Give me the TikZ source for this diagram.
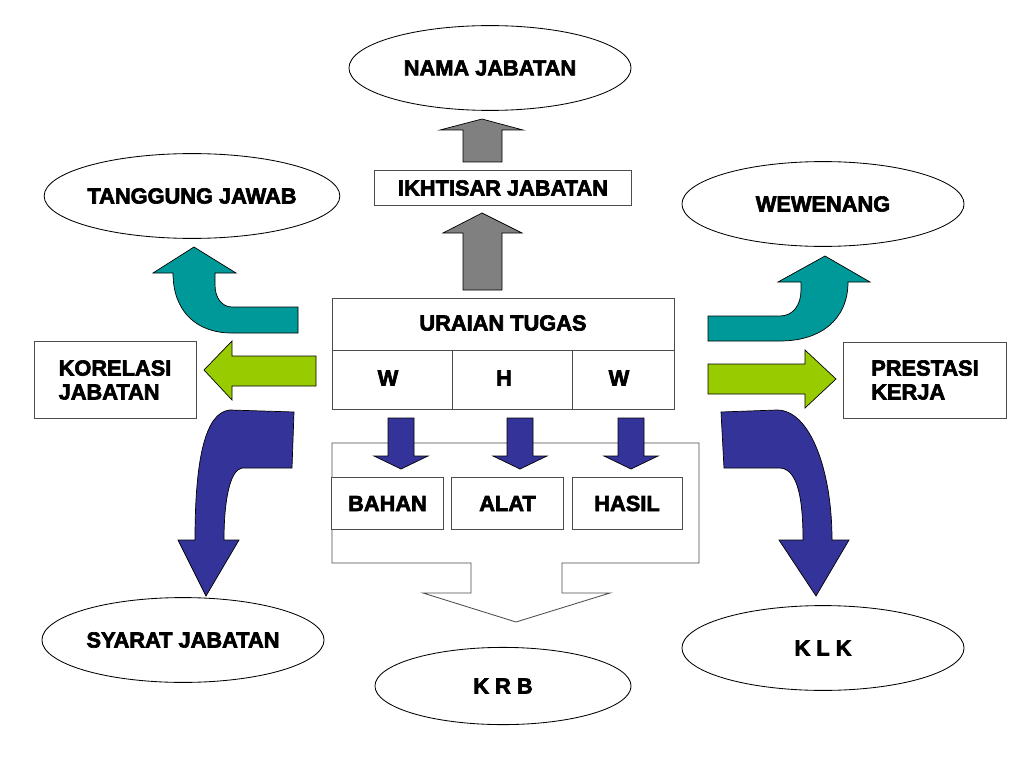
\documentclass[tikz,border=0pt]{standalone}
\usepackage{fontspec}
\setmainfont{Liberation Sans}[BoldFeatures={FakeBold=3}]
\usetikzlibrary{shapes.geometric}
\definecolor{tealarrow}{RGB}{0,153,153}
\definecolor{limearrow}{RGB}{153,204,0}
\definecolor{bluearrow}{RGB}{51,51,153}
\definecolor{grayarrow}{RGB}{128,128,128}
\begin{document}
\begin{tikzpicture}[x=0.025cm,y=-0.025cm,line width=0.6pt,
  every node/.style={font=\fontsize{15.5}{17}\selectfont\bfseries},
  oval/.style={draw,ellipse,inner sep=0pt,minimum width=7.05cm,minimum height=2.12cm},
  box/.style={draw=black!70,fill=white,inner sep=0pt},
  blockarrow/.style={draw=black,line width=0.5pt}]
\useasboundingbox (0,0) rectangle (1024,768);
\node [oval] (nama) at (490,68) {NAMA JABATAN};
\node [oval] (tanggung) at (192,196) {TANGGUNG JAWAB};
\node [oval] (wewenang) at (823,204) {WEWENANG};
\node [oval] (syarat) at (183,640) {SYARAT JABATAN};
\node [oval] (klk) at (823,648) {K L K};
\node [oval,minimum width=6.4cm,minimum height=1.93cm] (krb) at (503,686) {K R B};
\draw [blockarrow,fill=grayarrow] (463,162) -- (463,130) -- (440,130) -- (482,119) -- (523,130) -- (502,130) -- (502,162) -- cycle;
\node [box,minimum width=6.42cm,minimum height=0.88cm] (ikhtisar) at (503,188) {IKHTISAR JABATAN};
\draw [blockarrow,fill=grayarrow] (463,290) -- (463,233) -- (443,233) -- (482,213) -- (522,233) -- (502,233) -- (502,290) -- cycle;
\draw [box] (332,298) rectangle (674,409);
\draw [draw=black!70] (332,350) -- (674,350) (452,350) -- (452,409) (572,350) -- (572,409);
\node (uraian) at (503,323) {URAIAN TUGAS};
\node (w1) at (388,378) {W};
\node (h) at (504,378) {H};
\node (w2) at (619,378) {W};
\node [box,minimum width=4.05cm,minimum height=1.92cm,align=left] (korelasi) at (115,380) {KORELASI\\JABATAN};
\node [box,minimum width=4.07cm,minimum height=1.9cm,align=left] (prestasi) at (925,380) {PRESTASI\\KERJA};
\draw [blockarrow,fill=tealarrow] (298,307) -- (232,307) .. controls (222,307) and (215,298) .. (215,285) -- (215,273) -- (236,273) -- (194,247) -- (153,273) -- (173,273) .. controls (173,310) and (195,333) .. (232,333) -- (298,333) -- cycle;
\draw [blockarrow,fill=tealarrow] (708,316) -- (780,316) .. controls (793,316) and (801,305) .. (801,290) -- (801,282) -- (778,282) -- (825,256) -- (870,282) -- (848,282) .. controls (848,320) and (820,341) .. (780,341) -- (708,341) -- cycle;
\draw [blockarrow,fill=limearrow] (316,356) -- (232,356) -- (232,341) -- (204,370) -- (232,400) -- (232,386) -- (316,386) -- cycle;
\draw [blockarrow,fill=limearrow] (708,364) -- (805,364) -- (805,350) -- (836,379) -- (805,408) -- (805,394) -- (708,394) -- cycle;
\draw [blockarrow,fill=bluearrow] (230,410) -- (294,412) -- (292,468) -- (242,468) .. controls (230,470) and (224,500) .. (224,540) -- (239,540) -- (206,596) -- (178,540) -- (195,540) .. controls (195,460) and (205,412) .. (230,410) -- cycle;
\draw [blockarrow,fill=bluearrow] (721,412) -- (777,410) .. controls (810,410) and (832,470) .. (832,540) -- (849,540) -- (816,596) -- (779,540) -- (803,540) .. controls (803,490) and (795,468) .. (779,468) -- (724,468) -- cycle;
\draw [box] (332,443) -- (699,443) -- (699,563) -- (562,563) -- (562,593) -- (610,593) -- (516,622) -- (423,593) -- (471,593) -- (471,563) -- (332,563) -- cycle;
\node [box,minimum width=2.78cm,minimum height=1.28cm] (bahan) at (387.5,503.5) {BAHAN};
\node [box,minimum width=2.78cm,minimum height=1.28cm] (alat) at (507.5,503.5) {ALAT};
\node [box,minimum width=2.75cm,minimum height=1.28cm] (hasil) at (627,503.5) {HASIL};
\foreach \x in {401,520,631}
  \draw [blockarrow,fill=bluearrow] (\x-13,418) -- (\x+13,418) -- (\x+13,456) -- (\x+27,456) -- (\x,469) -- (\x-27,456) -- (\x-13,456) -- cycle;
\end{tikzpicture}
\end{document}
